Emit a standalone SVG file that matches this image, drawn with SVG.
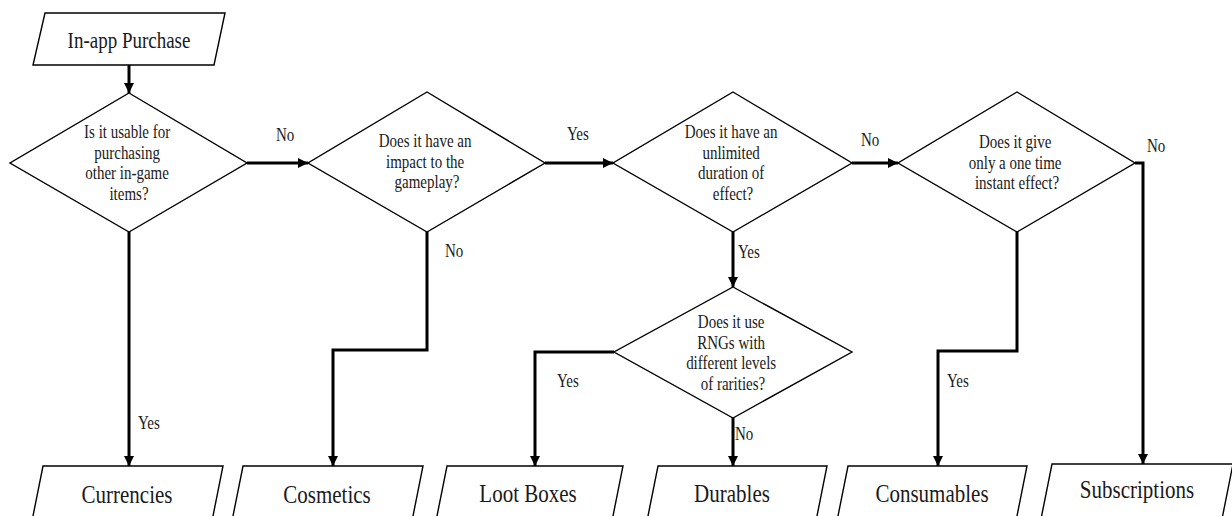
<svg xmlns="http://www.w3.org/2000/svg" width="1232" height="516" viewBox="0 0 1232 516">
  <defs>
    <marker id="arrow" markerUnits="userSpaceOnUse" markerWidth="11" markerHeight="11" refX="10" refY="5" orient="auto">
      <path d="M0,0 L10,5 L0,10 z" fill="#000"/>
    </marker>
    <style>
      .shape { fill: #fff; stroke: #000; stroke-width: 1.4; }
      .link { fill: none; stroke: #000; stroke-width: 3; marker-end: url(#arrow); }
      .txt { font-family: "Liberation Serif", "Times New Roman", serif; fill: #1a1a1a; text-anchor: middle; }
      .q { font-size: 15px; }
      .lbl { font-family: "Liberation Serif", "Times New Roman", serif; fill: #1a1a1a; font-size: 15px; }
      .out { font-size: 21px; }
    </style>
  </defs>
  <rect width="1232" height="516" fill="#fff"/>

  <!-- connectors -->
  <g id="connectors">
    <path class="link" d="M129,65 V93"/>
    <path class="link" d="M247,163 H308"/>
    <path class="link" d="M129,232 V466"/>
    <path class="link" d="M545,163 H613"/>
    <path class="link" d="M427,232 V350 H333 V466"/>
    <path class="link" d="M852,163 H898"/>
    <path class="link" d="M733,232 V287"/>
    <path class="link" d="M1135,163 H1143 V464"/>
    <path class="link" d="M1017,232 V351 H938 V466"/>
    <path class="link" d="M614,352 H535 V466"/>
    <path class="link" d="M733,418 V466"/>
    <text class="lbl" transform="translate(276,141) scale(1,1.2)">No</text>
    <text class="lbl" transform="translate(567,140) scale(1,1.2)">Yes</text>
    <text class="lbl" transform="translate(861,146) scale(1,1.2)">No</text>
    <text class="lbl" transform="translate(1147,152) scale(1,1.2)">No</text>
    <text class="lbl" transform="translate(138,429) scale(1,1.2)">Yes</text>
    <text class="lbl" transform="translate(445,257) scale(1,1.2)">No</text>
    <text class="lbl" transform="translate(738,258) scale(1,1.2)">Yes</text>
    <text class="lbl" transform="translate(557,387) scale(1,1.2)">Yes</text>
    <text class="lbl" transform="translate(735,440) scale(1,1.2)">No</text>
    <text class="lbl" transform="translate(947,387) scale(1,1.2)">Yes</text>
  </g>

  <!-- start -->
  <g id="start">
    <polygon class="shape" points="45,13 225,13 214,65 33,65"/>
    <text class="txt" style="font-size:19px" transform="translate(129,48) scale(1,1.2)">In-app Purchase</text>
  </g>

  <!-- decisions -->
  <g id="q-currency">
    <polygon class="shape" points="129,93 247,163 129,232 10,163"/>
    <text class="txt q" transform="translate(129,138) scale(1,1.2)">
      <tspan x="0" y="0">Is it usable for</tspan>
      <tspan x="0" dy="17.25">purchasing</tspan>
      <tspan x="0" dy="17.25">other in-game</tspan>
      <tspan x="0" dy="17.25">items?</tspan>
    </text>
  </g>
  <g id="q-impact">
    <polygon class="shape" points="427,92 545,163 427,232 308,163"/>
    <text class="txt q" transform="translate(427,147) scale(1,1.2)">
      <tspan x="0" y="0">Does it have an</tspan>
      <tspan x="0" dy="17.25">impact to the</tspan>
      <tspan x="0" dy="17.25">gameplay?</tspan>
    </text>
  </g>
  <g id="q-duration">
    <polygon class="shape" points="733,92 852,163 733,232 613,163"/>
    <text class="txt q" transform="translate(733,138) scale(1,1.2)">
      <tspan x="0" y="0">Does it have an</tspan>
      <tspan x="0" dy="17.25">unlimited</tspan>
      <tspan x="0" dy="17.25">duration of</tspan>
      <tspan x="0" dy="17.25">effect?</tspan>
    </text>
  </g>
  <g id="q-instant">
    <polygon class="shape" points="1017,92 1135,163 1017,232 898,163"/>
    <text class="txt q" transform="translate(1017,148) scale(1,1.2)">
      <tspan x="0" y="0">Does it give</tspan>
      <tspan x="0" dy="17.25">only a one time</tspan>
      <tspan x="0" dy="17.25">instant effect?</tspan>
    </text>
  </g>
  <g id="q-rng">
    <polygon class="shape" points="733,287 852,352 733,418 614,352"/>
    <text class="txt q" transform="translate(733,328) scale(1,1.2)">
      <tspan x="0" y="0">Does it use</tspan>
      <tspan x="0" dy="17.1">RNGs with</tspan>
      <tspan x="0" dy="17.1">different levels</tspan>
      <tspan x="0" dy="17.1">of rarities?</tspan>
    </text>
  </g>

  <!-- outcomes -->
  <g id="currencies">
    <polygon class="shape" points="43,466 223,466 211,526 31,526"/>
    <text class="txt out" transform="translate(127,503) scale(1,1.2)">Currencies</text>
  </g>
  <g id="cosmetics">
    <polygon class="shape" points="243,466 423,466 411,526 231,526"/>
    <text class="txt out" transform="translate(327,503) scale(1,1.2)">Cosmetics</text>
  </g>
  <g id="loot-boxes">
    <polygon class="shape" points="447,466 623,466 611,526 435,526"/>
    <text class="txt out" transform="translate(528,502) scale(1,1.2)">Loot Boxes</text>
  </g>
  <g id="durables">
    <polygon class="shape" points="658,466 827,466 815,526 646,526"/>
    <text class="txt out" transform="translate(732,502) scale(1,1.2)">Durables</text>
  </g>
  <g id="consumables">
    <polygon class="shape" points="848,466 1027,466 1015,526 836,526"/>
    <text class="txt out" transform="translate(932,502) scale(1,1.2)">Consumables</text>
  </g>
  <g id="subscriptions">
    <polygon class="shape" points="1052,464 1233,464 1221,524 1040,524"/>
    <text class="txt out" transform="translate(1137,498) scale(1,1.2)">Subscriptions</text>
  </g>
</svg>
